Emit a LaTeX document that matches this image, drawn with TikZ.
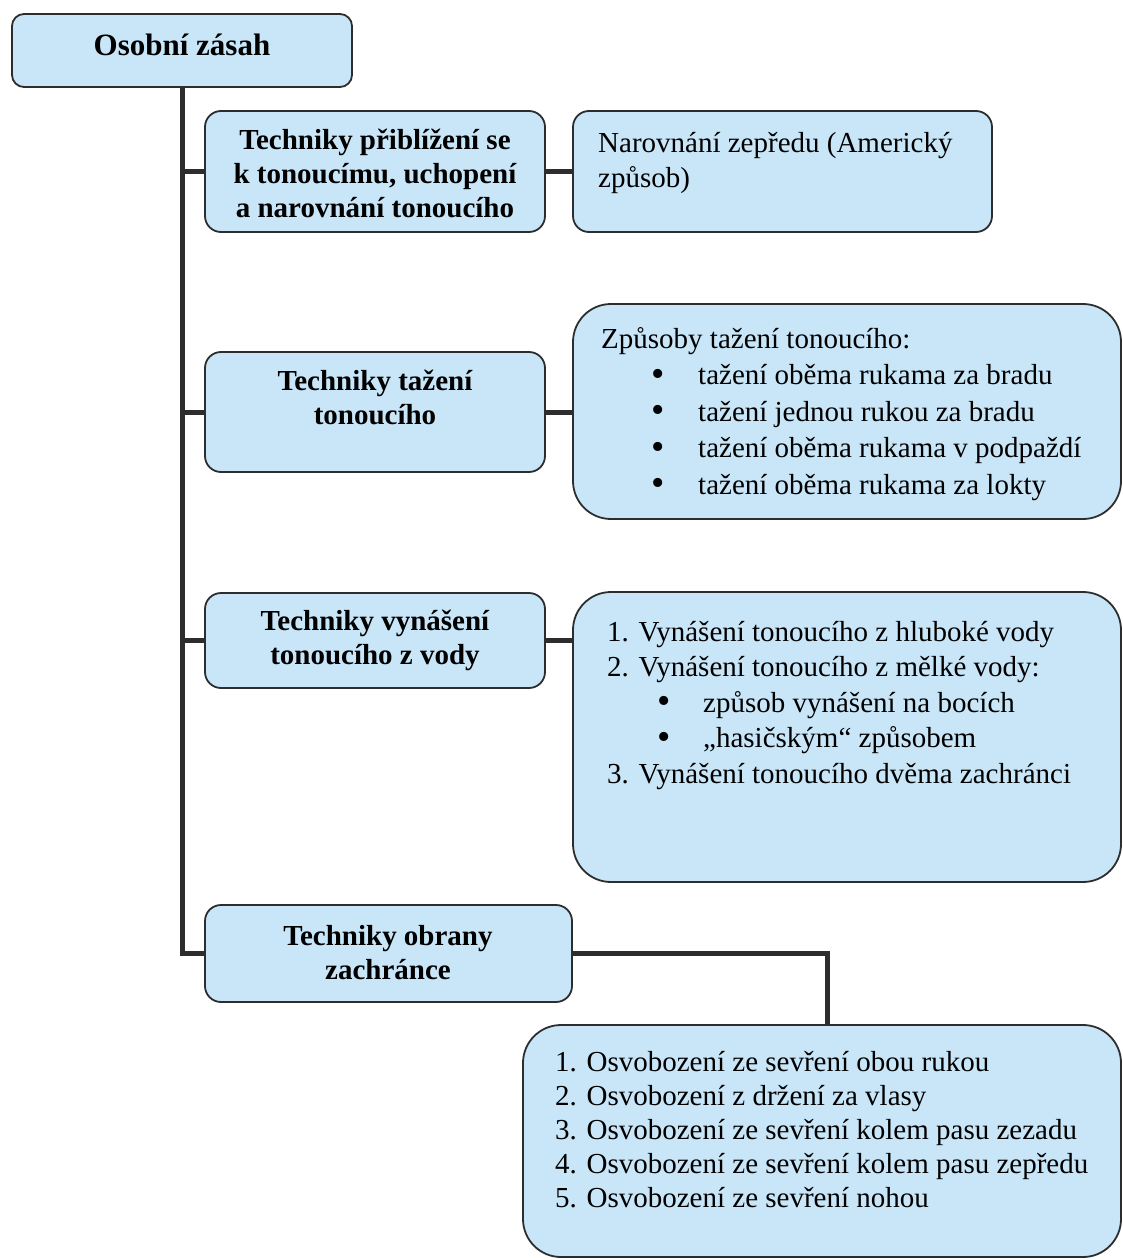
\documentclass[tikz,border=0pt]{standalone}
\usepackage{fontspec}
\setmainfont{Liberation Serif}
\usetikzlibrary{fit}
\definecolor{boxfill}{RGB}{200,230,248}
\definecolor{ink}{RGB}{45,45,45}
\newcommand{\bul}[2]{\hspace*{#1}\makebox[#2][l]{\raisebox{-0.06em}{\fontsize{38}{36}\selectfont •}}}
\begin{document}
\begin{tikzpicture}[x=1pt,y=-1pt,
  box/.style={draw=ink, line width=1.8pt, fill=boxfill, rounded corners=16pt, inner sep=0pt},
  bigbox/.style={box, rounded corners=38pt},
  conn/.style={draw=ink, line width=5pt, line join=miter},
  txt/.style={inner sep=0pt, anchor=base west, font=\fontsize{29}{35}\selectfont},
  hd/.style={inner sep=0pt, anchor=base, font=\fontsize{29}{34}\selectfont\bfseries}]
\useasboundingbox (0,0) rectangle (1123,1260);

% boxes
\node[box, rounded corners=12pt, fit={(12,14) (352,87)}] (root) {};
\node[box, fit={(205,111) (545,232)}] (b1) {};
\node[box, fit={(573,111) (992,232)}] (b1r) {};
\node[box, fit={(205,352) (545,472)}] (b2) {};
\node[bigbox, fit={(573,304) (1121,519)}] (b2r) {};
\node[box, fit={(205,593) (545,688)}] (b3) {};
\node[bigbox, fit={(573,592) (1121,882)}] (b3r) {};
\node[box, fit={(205,905) (572,1002)}] (b4) {};
\node[bigbox, fit={(523,1025) (1121,1257)}] (b5) {};

% connectors
\draw[conn] (root.south) |- (b4.west);
\draw[conn] (root.south |- b1.west) -- (b1.west);
\draw[conn] (root.south |- b2.west) -- (b2.west);
\draw[conn] (root.south |- b3.west) -- (b3.west);
\draw[conn] (b1.east) -- (b1.east -| b1r.west);
\draw[conn] (b2.east) -- (b2.east -| b2r.west);
\draw[conn] (b3.east) -- (b3.east -| b3r.west);
\coordinate (b5top) at ([xshift=5pt]b5.north);
\draw[conn] (b4.east) -| (b5top);

% headings
\node[hd, font=\fontsize{31}{36}\selectfont\bfseries] (troot) at (182,56) {Osobní zásah};
\node[hd] (t1a) at (375,150) {Techniky přiblížení se};
\node[hd] (t1b) at (375,184) {k tonoucímu, uchopení};
\node[hd] (t1c) at (375,218) {a narovnání tonoucího};
\node[hd] (t2a) at (375,390) {Techniky tažení};
\node[hd] (t2b) at (375,424) {tonoucího};
\node[hd] (t3a) at (375,630) {Techniky vynášení};
\node[hd] (t3b) at (375,664) {tonoucího z vody};
\node[hd] (t4a) at (388,945) {Techniky obrany};
\node[hd] (t4b) at (388,979) {zachránce};

% right boxes
\node[txt] (r1a) at (598,153) {Narovnání zepředu (Americký};
\node[txt] (r1b) at (598,188) {způsob)};

\node[txt] (r2a) at (601,348) {Způsoby tažení tonoucího:};
\node[txt] (r2b) at (601,384.5) {\bul{50pt}{47pt}tažení oběma rukama za bradu};
\node[txt] (r2c) at (601,421) {\bul{50pt}{47pt}tažení jednou rukou za bradu};
\node[txt] (r2d) at (601,457.5) {\bul{50pt}{47pt}tažení oběma rukama v podpaždí};
\node[txt] (r2e) at (601,494) {\bul{50pt}{47pt}tažení oběma rukama za lokty};

\node[txt] (r3a) at (607,641) {1. Vynášení tonoucího z hluboké vody};
\node[txt] (r3b) at (607,676.5) {2. Vynášení tonoucího z mělké vody:};
\node[txt] (r3c) at (607,712) {\bul{50pt}{46pt}způsob vynášení na bocích};
\node[txt] (r3d) at (607,747.5) {\bul{50pt}{46pt}„hasičským“ způsobem};
\node[txt] (r3e) at (607,783) {3. Vynášení tonoucího dvěma zachránci};

\node[txt] (r5a) at (555,1071) {1. Osvobození ze sevření obou rukou};
\node[txt] (r5b) at (555,1105) {2. Osvobození z držení za vlasy};
\node[txt] (r5c) at (555,1139) {3. Osvobození ze sevření kolem pasu zezadu};
\node[txt] (r5d) at (555,1173) {4. Osvobození ze sevření kolem pasu zepředu};
\node[txt] (r5e) at (555,1207) {5. Osvobození ze sevření nohou};
\end{tikzpicture}
\end{document}
